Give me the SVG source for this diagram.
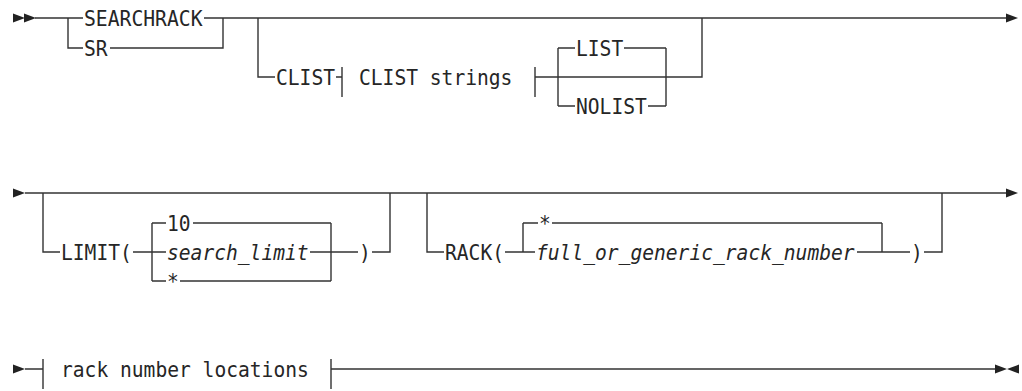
<svg xmlns="http://www.w3.org/2000/svg" xmlns:xlink="http://www.w3.org/1999/xlink" width="1022" height="391" viewBox="0 0 1022 391">
<style>
.ln{fill:none;stroke:#333;stroke-width:1.4;stroke-linecap:butt}
.t{font-family:"DejaVu Sans Mono","Liberation Mono",monospace;font-size:21px;fill:#262626}
.i{font-style:italic}
.ah{fill:#222}
</style>
<defs>
<path id="fr" d="M0 -4.5 L12 0 L0 4.5 Z"/>
<path id="fl" d="M0 -4.5 L-12 0 L0 4.5 Z"/>
</defs>
<rect width="1022" height="391" fill="#fff"/>
<g id="connectors">
<use href="#fr" class="ah" x="13" y="18"/>
<use href="#fr" class="ah" x="24" y="18"/>
<use href="#fr" class="ah" x="1006" y="18"/>
<use href="#fr" class="ah" x="13" y="193"/>
<use href="#fr" class="ah" x="1006" y="193"/>
<use href="#fr" class="ah" x="13" y="369"/>
<use href="#fr" class="ah" x="995" y="369"/>
<use href="#fl" class="ah" x="1019" y="369"/>
<path class="ln" d="M35 18 H83 M204 18 H1006 M68 18 V48 H83 M110 48 H223 V18"/>
<path class="ln" d="M258 18 V77 H275 M336 77 H342 M342 67 V97 M535 67 V97 M535 77 H702 V18"/>
<path class="ln" d="M558 48 V106 M558 48 H575 M624 48 H666 M558 106 H575 M648 106 H666 M666 48 V106"/>
<path class="ln" d="M25 193 H1006"/>
<path class="ln" d="M43 193 V252 H60 M133 252 H166 M152 223 V281 M152 223 H166 M193 223 H331 M152 281 H166 M180 281 H331 M331 223 V281 M310 252 H358 M372 252 H390 V193"/>
<path class="ln" d="M427 193 V252 H444 M505 252 H535 M523 223 V252 M523 223 H538 M552 223 H882 M882 223 V252 M857 252 H910 M924 252 H942 V193"/>
<path class="ln" d="M25 369 H43 M43 359 V389 M331 359 V389 M331 369 H995"/>
</g>
<g id="n-searchrack"><text class="t" x="84" y="25.5" textLength="118.5" lengthAdjust="spacingAndGlyphs">SEARCHRACK</text></g>
<g id="n-sr"><text class="t" x="84" y="55.5" textLength="23.6" lengthAdjust="spacingAndGlyphs">SR</text></g>
<g id="n-clist"><text class="t" x="276" y="84.5" textLength="59" lengthAdjust="spacingAndGlyphs">CLIST</text></g>
<g id="n-clist-strings"><text class="t" x="359" y="84.5" textLength="153.4" lengthAdjust="spacingAndGlyphs">CLIST strings</text></g>
<g id="n-list"><text class="t" x="576" y="55.5" textLength="47.2" lengthAdjust="spacingAndGlyphs">LIST</text></g>
<g id="n-nolist"><text class="t" x="576" y="113.5" textLength="70.8" lengthAdjust="spacingAndGlyphs">NOLIST</text></g>
<g id="n-limit"><text class="t" x="61" y="259.5" textLength="70.8" lengthAdjust="spacingAndGlyphs">LIMIT(</text></g>
<g id="n-10"><text class="t" x="167" y="230.5" textLength="23.6" lengthAdjust="spacingAndGlyphs">10</text></g>
<g id="n-search-limit"><text class="t i" x="167" y="259.5" textLength="141.6" lengthAdjust="spacingAndGlyphs">search_limit</text></g>
<g id="n-limit-star"><text class="t" x="167" y="288.5" textLength="11.8" lengthAdjust="spacingAndGlyphs">*</text></g>
<g id="n-limit-close"><text class="t" x="359" y="259.5" textLength="11.8" lengthAdjust="spacingAndGlyphs">)</text></g>
<g id="n-rack"><text class="t" x="445" y="259.5" textLength="59" lengthAdjust="spacingAndGlyphs">RACK(</text></g>
<g id="n-rack-star"><text class="t" x="539" y="230.5" textLength="11.8" lengthAdjust="spacingAndGlyphs">*</text></g>
<g id="n-rack-number"><text class="t i" x="536" y="259.5" textLength="318.6" lengthAdjust="spacingAndGlyphs">full_or_generic_rack_number</text></g>
<g id="n-rack-close"><text class="t" x="911" y="259.5" textLength="11.8" lengthAdjust="spacingAndGlyphs">)</text></g>
<g id="n-rack-locations"><text class="t" x="61" y="376.5" textLength="247.8" lengthAdjust="spacingAndGlyphs">rack number locations</text></g>
</svg>
